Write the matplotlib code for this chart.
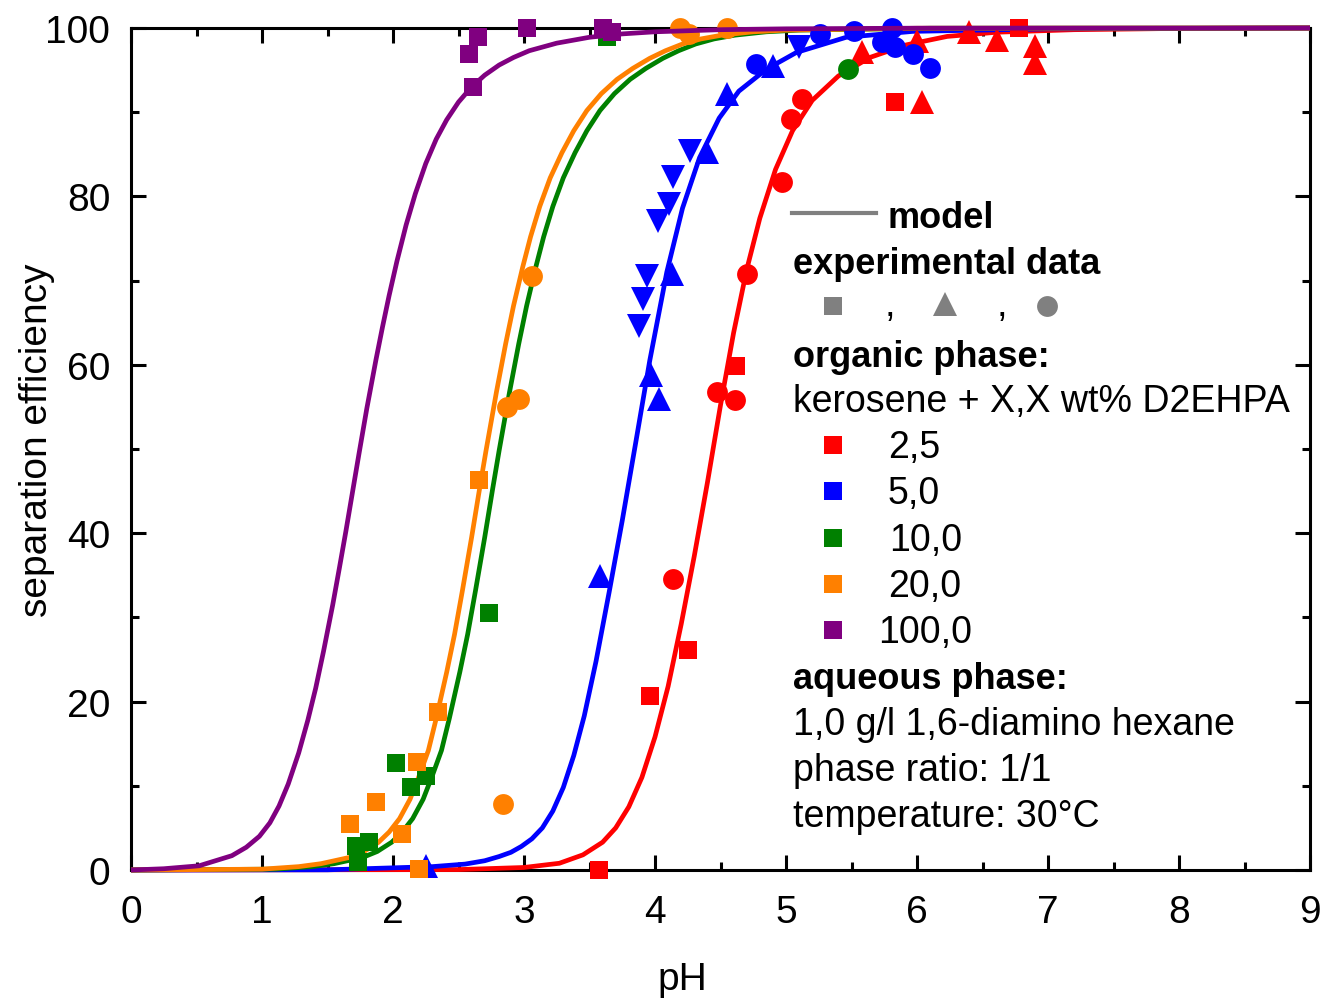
import matplotlib
matplotlib.use("Agg")
import matplotlib.pyplot as plt
from matplotlib.lines import Line2D

plt.rcParams['font.family'] = ['Liberation Sans', 'DejaVu Sans']

# ---------------- data ----------------
RED, BLUE, GREEN, ORANGE, PURPLE = '#ff0000', '#0000ff', '#008000', '#ff8000', '#800080'
GREY = '#808080'

# model curves
red_curve_ph = [0, 2.5, 3.0, 3.27, 3.45, 3.60, 3.70, 3.80, 3.90, 4.00, 4.10, 4.20, 4.30, 4.40, 4.50,
                4.60, 4.70, 4.80, 4.92, 5.05, 5.20, 5.40, 5.64, 5.92, 6.23, 6.61, 7.2, 8.0, 9.0]
red_curve_e = [0, 0.05, 0.3, 0.8, 1.8, 3.3, 5.0, 7.5, 11.0, 15.8, 21.8, 29.2, 37.3, 46.0, 55.2,
               63.8, 71.3, 77.4, 83.2, 87.8, 91.4, 94.3, 96.5, 98.0, 99.0, 99.5, 99.8, 99.95, 100]

blue_curve_ph = [0, 1.5, 2.30, 2.55, 2.70, 2.81, 2.90, 2.98, 3.06, 3.14, 3.22, 3.30, 3.38, 3.46, 3.55,
                 3.65, 3.75, 3.85, 3.96, 4.09, 4.21, 4.34, 4.49, 4.64, 4.85, 5.08, 5.46, 5.97, 7.0, 9.0]
blue_curve_e = [0, 0.02, 0.4, 0.7, 1.1, 1.6, 2.1, 2.8, 3.7, 5.0, 7.0, 9.8, 13.6, 18.3, 24.8,
                33.0, 41.5, 50.5, 60.5, 71.0, 78.6, 84.6, 89.3, 92.5, 95.1, 97.1, 98.9, 99.6, 99.9, 100]

green_curve_ph = [0, 1.10, 1.38, 1.55, 1.77, 1.88, 1.99, 2.07, 2.15, 2.23, 2.30, 2.37, 2.43, 2.51, 2.57,
                  2.63, 2.70, 2.76, 2.81, 2.89, 2.96, 3.02, 3.09, 3.15, 3.22, 3.30, 3.39, 3.48, 3.58,
                  3.69, 3.81, 3.93, 4.06, 4.18, 4.31, 4.45, 4.61, 4.85, 5.10, 6.10, 9.0]
green_curve_e = [0, 0.1, 0.4, 0.75, 1.5, 2.2, 3.3, 4.5, 6.1, 8.4, 11.2, 14.2, 18.0, 23.5, 28.0,
                 33.2, 39.5, 45.2, 49.8, 56.8, 62.5, 67.0, 71.6, 75.2, 78.8, 82.2, 85.2, 87.8, 90.2,
                 92.2, 93.9, 95.2, 96.4, 97.3, 98.1, 98.7, 99.15, 99.55, 99.75, 99.97, 100]

orange_curve_ph = [0, 1.00, 1.28, 1.45, 1.67, 1.78, 1.89, 1.97, 2.05, 2.13, 2.20, 2.27, 2.33, 2.41, 2.47,
                   2.53, 2.60, 2.66, 2.71, 2.79, 2.86, 2.92, 2.99, 3.05, 3.12, 3.20, 3.29, 3.38, 3.48,
                   3.59, 3.71, 3.83, 3.96, 4.08, 4.21, 4.35, 4.51, 4.75, 5.00, 6.00, 9.0]
orange_curve_e = [0, 0.1, 0.4, 0.75, 1.5, 2.2, 3.3, 4.5, 6.1, 8.4, 11.2, 14.2, 18.0, 23.5, 28.0,
                  33.2, 39.5, 45.2, 49.8, 56.8, 62.5, 67.0, 71.6, 75.2, 78.8, 82.2, 85.2, 87.8, 90.2,
                  92.2, 93.9, 95.2, 96.4, 97.3, 98.1, 98.7, 99.15, 99.55, 99.75, 99.97, 100]

purple_curve_ph = [0, 0.25, 0.52, 0.77, 0.88, 0.98, 1.06, 1.13, 1.20, 1.28, 1.35, 1.41, 1.47, 1.54, 1.59,
                   1.64, 1.69, 1.74, 1.80, 1.87, 1.92, 1.97, 2.03, 2.10, 2.17, 2.25, 2.33, 2.41, 2.50,
                   2.60, 2.70, 2.81, 2.92, 3.04, 3.25, 3.50, 3.75, 4.0, 4.5, 5.0, 6.0, 9.0]
purple_curve_e = [0, 0.15, 0.5, 1.7, 2.7, 4.0, 5.6, 7.6, 10.2, 13.9, 17.8, 21.6, 26.0, 31.5, 35.8,
                  40.2, 44.8, 49.4, 54.8, 60.6, 64.5, 68.2, 72.3, 76.6, 80.3, 83.9, 86.8, 89.1, 91.2,
                  93.0, 94.4, 95.6, 96.5, 97.3, 98.2, 98.9, 99.3, 99.55, 99.8, 99.9, 99.98, 100]

# experimental data
red_sq_ph = [3.57, 3.96, 4.25, 4.62, 5.83, 6.78]
red_sq_e = [0.0, 20.7, 26.1, 59.9, 91.2, 100.0]
red_ci_ph = [4.14, 4.47, 4.61, 4.70, 4.97, 5.04, 5.12]
red_ci_e = [34.6, 56.8, 55.8, 70.8, 81.7, 89.2, 91.6]
red_tr_ph = [5.58, 6.04, 6.00, 6.40, 6.61, 6.90, 6.90]
red_tr_e = [97.1, 91.2, 98.5, 99.5, 98.6, 97.9, 95.8]

blue_tr_ph = [2.25, 3.58, 3.97, 4.03, 4.13, 4.40, 4.55, 4.90]
blue_tr_e = [0.5, 34.9, 58.8, 55.9, 70.8, 85.3, 92.2, 95.5]
blue_dt_ph = [3.88, 3.91, 3.94, 4.02, 4.11, 4.14, 4.27, 5.10]
blue_dt_e = [64.6, 67.8, 70.5, 77.1, 79.1, 82.3, 85.4, 97.7]
blue_ci_ph = [4.77, 5.26, 5.52, 5.81, 5.73, 5.83, 5.97, 6.10]
blue_ci_e = [95.7, 99.3, 99.6, 100.0, 98.3, 97.7, 96.9, 95.2]

green_sq_ph = [3.63, 2.73, 2.02, 2.14, 2.25, 1.72, 1.82, 1.73]
green_sq_e = [98.9, 30.5, 12.7, 9.9, 11.2, 2.9, 3.3, 0.9]
green_ci_ph = [5.47]
green_ci_e = [95.1]

orange_sq_ph = [2.66, 2.34, 2.18, 1.87, 1.67, 2.07, 2.20]
orange_sq_e = [46.3, 18.8, 12.8, 8.1, 5.5, 4.3, 0.1]
orange_ci_ph = [2.84, 3.06, 2.96, 2.87, 4.19, 4.26, 4.55]
orange_ci_e = [7.8, 70.5, 55.9, 55.0, 100.0, 99.3, 100.0]

purple_sq_ph = [2.61, 2.58, 2.65, 3.02, 3.60, 3.67]
purple_sq_e = [93.0, 96.9, 98.9, 100.0, 100.0, 99.5]

xticks = [0, 1, 2, 3, 4, 5, 6, 7, 8, 9]
yticks = [0, 20, 40, 60, 80, 100]
conc_labels = ['2,5', '5,0', '10,0', '20,0', '100,0']
conc_colors = [RED, BLUE, GREEN, ORANGE, PURPLE]

# ---------------- figure ----------------
W, H = 1322, 1003
fig = plt.figure(figsize=(W / 100, H / 100), dpi=100)
L, R, T, B = 131, 1310, 29, 871
ax = fig.add_axes([L / W, 1 - B / H, (R - L) / W, (B - T) / H])
ax.set_xlim(0, 9)
ax.set_ylim(0, 100)

lw = 3.4
for xs, ys, c, z in [(red_curve_ph, red_curve_e, RED, 3), (blue_curve_ph, blue_curve_e, BLUE, 3),
                     (green_curve_ph, green_curve_e, GREEN, 3), (orange_curve_ph, orange_curve_e, ORANGE, 3),
                     (purple_curve_ph, purple_curve_e, PURPLE, 5)]:
    ax.plot(xs, ys, color=c, lw=lw, zorder=z, clip_on=False,
            solid_joinstyle='round', solid_capstyle='butt')

sq_ms, ci_ms, tr_ms = 13.5, 15, 17
def pts(x, y, c, m, ms):
    ax.plot(x, y, linestyle='none', marker=m, ms=ms, color=c, mec=c, mew=0, zorder=4, clip_on=False)

pts(red_sq_ph, red_sq_e, RED, 's', sq_ms)
pts(red_ci_ph, red_ci_e, RED, 'o', ci_ms)
pts(red_tr_ph, red_tr_e, RED, '^', tr_ms)
pts(blue_tr_ph, blue_tr_e, BLUE, '^', tr_ms)
pts(blue_dt_ph, blue_dt_e, BLUE, 'v', tr_ms)
pts(blue_ci_ph, blue_ci_e, BLUE, 'o', ci_ms)
pts(green_sq_ph, green_sq_e, GREEN, 's', sq_ms)
pts(green_ci_ph, green_ci_e, GREEN, 'o', ci_ms)
pts(orange_sq_ph, orange_sq_e, ORANGE, 's', sq_ms)
pts(orange_ci_ph, orange_ci_e, ORANGE, 'o', ci_ms)
pts(purple_sq_ph, purple_sq_e, PURPLE, 's', sq_ms)

for s in ax.spines.values():
    s.set_linewidth(2.2)
    s.set_zorder(2.5)

ax.set_xticks(xticks)
ax.set_yticks(yticks)
ax.set_xticks([i + 0.5 for i in xticks[:-1]], minor=True)
ax.set_yticks([10, 30, 50, 70, 90], minor=True)
ax.tick_params(which='both', direction='in', top=True, right=True, width=2.2, labelsize=28)
ax.tick_params(which='major', length=11)
ax.tick_params(which='minor', length=6)
ax.tick_params(axis='x', which='major', pad=17)
ax.tick_params(axis='y', which='major', pad=15)

ax.set_xlabel('pH', fontsize=28)
ax.set_ylabel('separation efficiency', fontsize=28)
ax.xaxis.label.set_va('center')
ax.yaxis.label.set_va('center')
ax.xaxis.set_label_coords((682 - L) / (R - L), (B - 980) / (B - T))
ax.yaxis.set_label_coords((37 - L) / (R - L), (B - 440) / (B - T))

# ---------------- legend block (figure pixel coords) ----------------
def fx(px): return px / W
def fy(py): return 1 - py / H

fs = 27
fsb = 26
fig.add_artist(Line2D([fx(792), fx(876)], [fy(214), fy(214)], color=GREY, lw=3))
fig.text(fx(888), fy(228), 'model', fontsize=fsb, fontweight='bold', va='baseline', ha='left')
fig.text(fx(793), fy(274), 'experimental data', fontsize=fsb, fontweight='bold', va='baseline', ha='left')
fig.add_artist(Line2D([fx(833)], [fy(307)], marker='s', ms=13.5, color=GREY, mew=0, ls='none'))
fig.add_artist(Line2D([fx(945)], [fy(305)], marker='^', ms=17, color=GREY, mew=0, ls='none'))
fig.add_artist(Line2D([fx(1047)], [fy(307)], marker='o', ms=15, color=GREY, mew=0, ls='none'))
fig.text(fx(885), fy(316), ',', fontsize=fs, va='baseline', ha='left')
fig.text(fx(997), fy(316), ',', fontsize=fs, va='baseline', ha='left')
fig.text(fx(793), fy(367), 'organic phase:', fontsize=fsb, fontweight='bold', va='baseline', ha='left')
fig.text(fx(793), fy(412), 'kerosene + X,X wt% D2EHPA', fontsize=fs, va='baseline', ha='left')
label_x = [888, 888, 889, 888, 878]
for i, (lab, c) in enumerate(zip(conc_labels, conc_colors)):
    base = 458 + i * 46.3
    fig.add_artist(Line2D([fx(833)], [fy(base - 12)], marker='s', ms=13.5, color=c, mew=0, ls='none'))
    fig.text(fx(label_x[i]), fy(base), lab, fontsize=fs, va='baseline', ha='left')
fig.text(fx(793), fy(689), 'aqueous phase:', fontsize=fsb, fontweight='bold', va='baseline', ha='left')
fig.text(fx(793), fy(735), '1,0 g/l 1,6-diamino hexane', fontsize=fs, va='baseline', ha='left')
fig.text(fx(793), fy(781), 'phase ratio: 1/1', fontsize=fs, va='baseline', ha='left')
fig.text(fx(793), fy(827), 'temperature: 30°C', fontsize=fs, va='baseline', ha='left')

fig.savefig('out.png', dpi=100)
